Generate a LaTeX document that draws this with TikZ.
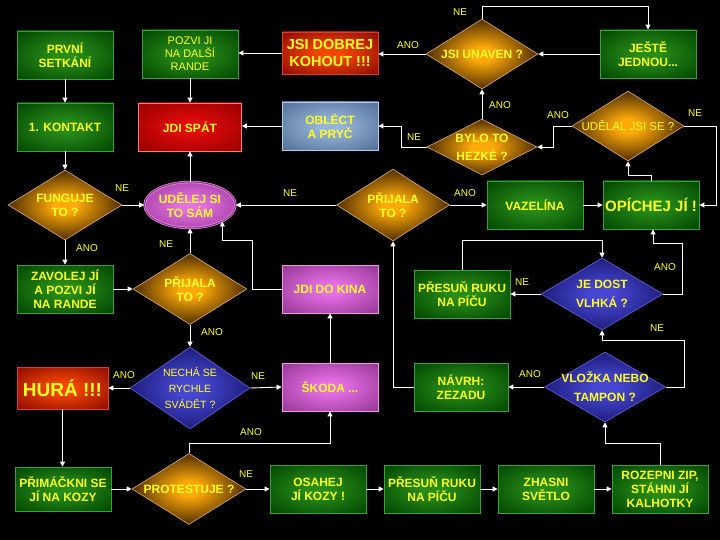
\documentclass[tikz,border=0pt]{standalone}
\usepackage{fontspec}
\setmainfont{Liberation Sans}
\usetikzlibrary{shapes.geometric,arrows.meta}
\makeatletter
\pgfdeclareradialshading[tikz@radial@inner,tikz@radial@outer]{glow}{\pgfpoint{0bp}{0bp}}{color(0bp)=(tikz@radial@inner); color(6bp)=(tikz@radial@inner); color(36bp)=(tikz@radial@outer); color(50bp)=(tikz@radial@outer)}
\pgfdeclareradialshading[tikz@radial@inner,tikz@radial@outer]{dglow}{\pgfpoint{0bp}{0bp}}{color(0bp)=(tikz@radial@inner); color(5bp)=(tikz@radial@inner); color(30bp)=(tikz@radial@outer); color(50bp)=(tikz@radial@outer)}
\makeatother
\definecolor{ytext}{RGB}{255,255,40}
\definecolor{gin}{RGB}{40,140,25}\definecolor{gout}{RGB}{0,68,0}\definecolor{gbd}{RGB}{60,160,60}
\definecolor{oin}{RGB}{255,170,10}\definecolor{oout}{RGB}{35,15,0}\definecolor{obd}{RGB}{225,175,110}
\definecolor{bin}{RGB}{70,70,210}\definecolor{bout}{RGB}{20,20,105}\definecolor{bbd}{RGB}{100,100,220}
\definecolor{rin}{RGB}{225,10,10}\definecolor{rout}{RGB}{150,0,0}\definecolor{rbd}{RGB}{240,130,130}
\definecolor{hin}{RGB}{245,70,0}\definecolor{hout}{RGB}{140,10,0}\definecolor{hbd}{RGB}{220,60,50}
\definecolor{min}{RGB}{230,110,230}\definecolor{mout}{RGB}{145,55,145}\definecolor{mbd}{RGB}{240,150,230}
\definecolor{sin}{RGB}{150,180,215}\definecolor{sout}{RGB}{80,110,150}\definecolor{sbd}{RGB}{180,205,235}
\begin{document}
\begin{tikzpicture}[x=1pt,y=-1pt,
  bx/.style={rectangle, minimum width=96pt, minimum height=48pt, inner sep=1pt, line width=0.8pt,
    text=ytext, font=\bfseries\fontsize{12}{14}\selectfont, align=center},
  gbox/.style={bx, draw=gbd, inner color=gin, outer color=gout, shading=glow},
  rbox/.style={bx, draw=rbd, inner color=rin, outer color=rout, shading=glow},
  hbox/.style={bx, draw=hbd, inner color=hin, outer color=hout, shading=glow},
  mbox/.style={bx, draw=mbd, inner color=min, outer color=mout, shading=glow},
  sbox/.style={bx, draw=sbd, inner color=sin, outer color=sout, shading=glow},
  dia/.style={diamond, inner sep=0pt, line width=0.6pt, minimum width=114pt, minimum height=70pt},
  odia/.style={dia, draw=obd, inner color=oin, outer color=oout, shading=dglow},
  bdia/.style={dia, draw=bbd, inner color=bin, outer color=bout, shading=dglow},
  dtxt/.style={text=ytext, font=\bfseries\fontsize{12}{14}\selectfont, align=center, inner sep=0pt},
  dthin/.style={text=ytext, font=\fontsize{11}{13}\selectfont, align=center, inner sep=0pt},
  lbl/.style={text=ytext, font=\fontsize{10}{12}\selectfont, inner sep=0pt},
  arr/.style={draw=white, line width=0.9pt, -{Triangle[length=5pt,width=5pt]}}]
\fill[black] (0,0) rectangle (720,540);
\useasboundingbox (0,0) rectangle (720,540);

% row 1
\node[gbox] (prv) at (65,55) {PRVNÍ\\SETKÁNÍ};
\node[gbox, font=\fontsize{11}{13}\selectfont] (pozvi) at (190,54) {POZVI JI\\NA DALŠÍ\\RANDE};
\node[hbox, minimum height=42pt, font=\bfseries\fontsize{14.5}{17}\selectfont] (kohout) at (330,53) {JSI DOBREJ\\KOHOUT !!!};
\node[odia, minimum width=112pt, label={[dtxt]center:{JSI UNAVEN ?}}] (unaven) at (482,54) {};
\node[gbox] (jeste) at (648,54) {JEŠTĚ\\JEDNOU...};
% row 2
\node[gbox] (kontakt) at (65,127) {1. KONTAKT};
\node[rbox, minimum width=103pt] (spat) at (190,127) {JDI SPÁT};
\node[sbox] (oblect) at (330,126) {OBLÉCT\\A PRYČ};
\node[odia, minimum width=110pt, minimum height=56pt, label={[dtxt]center:{BYLO TO\\[4pt]HEZKÉ ?}}] (bylo) at (482,147) {};
\node[odia, minimum width=112pt, label={[dthin, font=\fontsize{11.5}{13}\selectfont]center:{UDĚLAL JSI SE ?}}] (udelal) at (628,126) {};
% row 3
\node[odia, label={[dtxt]center:{FUNGUJE\\TO ?}}] (fung) at (65,205) {};
\node[ellipse, minimum width=91pt, minimum height=46pt, inner sep=0pt, draw=mbd, line width=0.6pt,
  double=mout, double distance=1.2pt, inner color=min, outer color=mout, shading=glow,
  text=ytext, font=\bfseries\fontsize{12}{14}\selectfont, align=center] (sam) at (190,205) {UDĚLEJ SI\\TO SÁM};
\node[odia, minimum width=113pt, minimum height=72pt, label={[dtxt]center:{PŘIJALA\\TO ?}}] (prij1) at (393,205) {};
\node[gbox] (vaz) at (535,205) {VAZELÍNA};
\node[gbox, font=\bfseries\fontsize{15}{17}\selectfont] (opich) at (651,205) {OPÍCHEJ JÍ !};
% row 4
\node[gbox] (zavolej) at (65,289) {ZAVOLEJ JÍ\\A POZVI JÍ\\NA RANDE};
\node[odia, minimum height=71pt, label={[dtxt]center:{PŘIJALA\\TO ?}}] (prij2) at (190,289) {};
\node[mbox] (kino) at (330,289) {JDI DO KINA};
\node[gbox] (presun1) at (462,294) {PŘESUŇ RUKU\\NA PÍČU};
\node[bdia, minimum width=122pt, minimum height=72pt, label={[dtxt]center:{JE DOST\\[5pt]VLHKÁ ?}}] (vlhka) at (602,294) {};
% row 5
\node[hbox, minimum width=91pt, minimum height=42pt, font=\bfseries\fontsize{19}{21}\selectfont] (hura) at (62.5,388) {HURÁ !!!};
\node[bdia, minimum width=120pt, minimum height=82pt, label={[dthin, font=\fontsize{10.5}{16}\selectfont]center:{NECHÁ SE\\RYCHLE\\SVÁDĚT ?}}] (necha) at (190,388) {};
\node[mbox] (skoda) at (330,387) {ŠKODA ...};
\node[gbox, minimum width=94pt] (navrh) at (461,387) {NÁVRH:\\ZEZADU};
\node[bdia, minimum width=121pt, label={[dtxt]center:{VLOŽKA NEBO\\[5pt]TAMPON ?}}] (vlozka) at (605,387) {};
% row 6
\node[gbox, minimum height=44pt] (primackni) at (63,489) {PŘIMÁČKNI SE\\JÍ NA KOZY};
\node[odia, minimum height=71pt, label={[dtxt]center:{PROTESTUJE ?}}] (protest) at (189,489) {};
\node[gbox] (osahej) at (318,489) {OSAHEJ\\JÍ KOZY !};
\node[gbox] (presun2) at (432,489) {PŘESUŇ RUKU\\NA PÍČU};
\node[gbox] (zhasni) at (546,489) {ZHASNI\\SVĚTLO};
\node[gbox] (rozepni) at (660,489) {ROZEPNI ZIP,\\STÁHNI JÍ\\KALHOTKY};

% helper coordinates
\coordinate (k1) at (sam.-27 |- 0,240);
\coordinate (c2) at (vlhka.south |- 0,340);
\coordinate (c3) at (653,243);

% connectors
\draw[arr] (prv) -- (kontakt);
\draw[arr] (kontakt) -- (fung);
\draw[arr] (fung.east) -- (sam.west);
\draw[arr] (fung.south) -- (zavolej.north);
\draw[arr] (zavolej.east) -- (prij2.west);
\draw[arr] (prij2.north) -- (sam.south);
\draw[arr] (prij2.south) -- (necha.north);
\draw[arr] (necha.west) -- (hura.east);
\draw[arr] (necha.east) -- (skoda.west);
\draw[arr] (hura.south) -- (hura.south |- primackni.north);
\draw[arr] (primackni.east) -- (protest.west);
\draw[arr] (protest.east) -- (osahej.west);
\draw[arr] (protest.north) -- ++(0,-10) -| (skoda.south);
\draw[arr] (skoda.north) -- (kino.south);
\draw[arr] (kino.west) -- ++(-29,0) |- (k1) -- (sam.-27);
\draw[arr] (sam.north) -- (sam.north |- spat.south);
\draw[arr] (pozvi.south) -- (pozvi.south |- spat.north);
\draw[arr] (kohout.west) -- (kohout.west -| pozvi.east);
\draw[arr] (unaven.west) -- (unaven.west -| kohout.east);
\draw[arr] (unaven.north) -- ++(0,-12) -| (jeste.north);
\draw[arr] (jeste.west) -- (unaven.east);
\draw[arr] (bylo.north) -- (unaven.south);
\draw[arr] (bylo.west) -- ++(-25,0) |- (oblect.east);
\draw[arr] (oblect.west) -- (oblect.west -| spat.east);
\draw[arr] (udelal.west) -- ++(-18,0) |- (bylo.east);
\draw[arr] (udelal.east) -- ++(32,0) |- (opich.east);
\draw[arr] (opich.north) -- ++(0,-5) -| (udelal.south);
\draw[arr] (prij1.west) -- (sam.east);
\draw[arr] (prij1.east) -- (vaz.west);
\draw[arr] (vaz.east) -- (opich.west);
\draw[arr] (navrh.west) -| (prij1.south);
\draw[arr] (vlozka.west) -- (navrh.east);
\draw[arr] (vlozka.east) -- ++(19,0) |- (c2) -- (vlhka.south);
\draw[arr] (vlhka.west) -- (presun1.east);
\draw[arr] (presun1.north) -- ++(0,-29) -| (vlhka.north);
\draw[arr] (vlhka.east) -- ++(19,0) |- (c3) -- (c3 |- opich.south);
\draw[arr] (osahej) -- (presun2);
\draw[arr] (presun2) -- (zhasni);
\draw[arr] (zhasni) -- (rozepni);
\draw[arr] (rozepni.north) -- ++(0,-21) -| (vlozka.south);

% labels
\node[lbl] (l1) at (122,188) {NE};
\node[lbl] (l2) at (87,248) {ANO};
\node[lbl] (l3) at (166,244) {NE};
\node[lbl] (l4) at (212,332) {ANO};
\node[lbl] (l5) at (124,375) {ANO};
\node[lbl] (l6) at (258,376) {NE};
\node[lbl] (l7) at (251,432) {ANO};
\node[lbl] (l8) at (246,474) {NE};
\node[lbl] (l9) at (408,45) {ANO};
\node[lbl] (l10) at (460,12) {NE};
\node[lbl] (l11) at (500,105) {ANO};
\node[lbl] (l12) at (414,137) {NE};
\node[lbl] (l13) at (558,115) {ANO};
\node[lbl] (l14) at (695,113) {NE};
\node[lbl] (l15) at (290,193) {NE};
\node[lbl] (l16) at (465,193) {ANO};
\node[lbl] (l17) at (530,374) {ANO};
\node[lbl] (l18) at (657,328) {NE};
\node[lbl] (l19) at (522,282) {NE};
\node[lbl] (l20) at (665,267) {ANO};
\end{tikzpicture}
\end{document}
